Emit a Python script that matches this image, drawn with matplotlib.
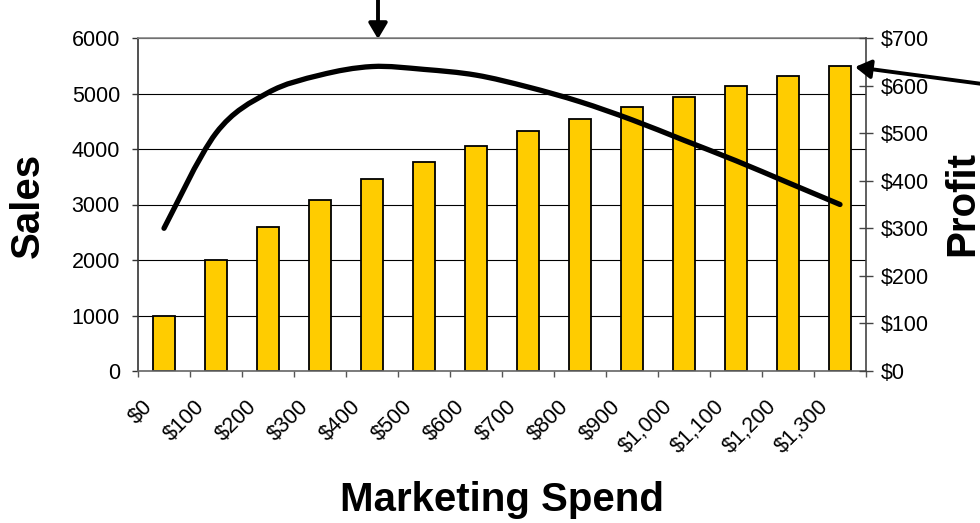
import matplotlib
matplotlib.use("Agg")
import matplotlib.pyplot as plt
from matplotlib.transforms import ScaledTranslation
from matplotlib.path import Path
from matplotlib.patches import PathPatch
import numpy as np

plt.rcParams['font.family'] = ['Liberation Sans', 'DejaVu Sans']

# data
spend_labels = ['$0', '$100', '$200', '$300', '$400', '$500', '$600', '$700',
                '$800', '$900', '$1,000', '$1,100', '$1,200', '$1,300']
sales = [1000, 2000, 2600, 3080, 3460, 3760, 4060, 4320, 4540, 4760, 4940, 5140, 5320, 5500]
profit = [300, 500, 585, 622, 640, 634, 622, 597, 566, 528, 485, 442, 396, 350]
sales_ticks = [0, 1000, 2000, 3000, 4000, 5000, 6000]
profit_ticks = [0, 100, 200, 300, 400, 500, 600, 700]


def smooth_path(xs, ys):
    # excel-like smoothed line: cubic bezier through the points (catmull-rom handles)
    p = np.column_stack([xs, ys]).astype(float)
    n = len(p)
    verts = [p[0]]
    codes = [Path.MOVETO]
    for i in range(n - 1):
        p0 = p[i - 1] if i > 0 else p[i]
        p3 = p[i + 2] if i + 2 < n else p[i + 1]
        c1 = p[i] + (p[i + 1] - p0) / 6.0
        c2 = p[i + 1] - (p3 - p[i]) / 6.0
        verts += [c1, c2, p[i + 1]]
        codes += [Path.CURVE4] * 3
    return Path(verts, codes)


W, H = 980, 523
fig = plt.figure(figsize=(W / 100, H / 100), dpi=100)
ax = fig.add_axes([138 / W, 1 - 371 / H, (866 - 138) / W, (371 - 38) / H])

x = np.arange(len(sales))
ax.bar(x, sales, width=0.42, color='#FFCC00', edgecolor='black', linewidth=1.3, zorder=2)
ax.set_xlim(-0.5, len(sales) - 0.5)
ax.set_ylim(0, 6000)
ax.set_yticks(sales_ticks)
ax.set_yticklabels([str(v) for v in sales_ticks], fontsize=15.5)
ax.yaxis.grid(True, color='black', linewidth=0.8)
ax.set_axisbelow(True)
ax.tick_params(axis='y', direction='out', length=4, width=1, color='#333333', pad=9)

# category ticks at boundaries, labels at centres
ax.set_xticks(x)
ax.set_xticks(np.arange(-0.5, len(sales), 1.0), minor=True)
ax.set_xticklabels(spend_labels, rotation=45, ha='right', va='top', fontsize=15.5)
ax.tick_params(axis='x', which='major', length=0, pad=18)
ax.tick_params(axis='x', which='minor', length=4, width=1, color='#555555', direction='out')
shift = ScaledTranslation(-0.07, 0, fig.dpi_scale_trans)
for lab in ax.get_xticklabels():
    lab.set_transform(lab.get_transform() + shift)

ax.spines['left'].set_color('#333333')
ax.spines['left'].set_linewidth(1.2)
ax.spines['bottom'].set_color('#666666')
ax.spines['bottom'].set_linewidth(1.2)
ax.spines['top'].set_color('#888888')
ax.spines['top'].set_linewidth(1.2)
ax.spines['right'].set_visible(False)

ax2 = ax.twinx()
ax2.set_ylim(0, 700)
ax2.add_patch(PathPatch(smooth_path(x, profit), facecolor='none', edgecolor='black',
                        linewidth=3.8, capstyle='round', joinstyle='round', zorder=3))
ax2.set_yticks(profit_ticks)
ax2.set_yticklabels(['${:,}'.format(v) for v in profit_ticks], fontsize=15.5)
ax2.tick_params(axis='y', direction='inout', length=10, width=1, color='#444444', pad=6)
ax2.spines['right'].set_color('#444444')
ax2.spines['right'].set_linewidth(1.2)
for side in ['left', 'top', 'bottom']:
    ax2.spines[side].set_visible(False)

# axis titles
fig.text(28 / W, 1 - 205 / H, 'Sales', rotation=90, ha='center', va='center',
         fontsize=29, fontweight='bold')
fig.text(962 / W, 1 - 203 / H, 'Profit', rotation=90, ha='center', va='center',
         fontsize=29, fontweight='bold')
fig.text(502 / W, 1 - 500 / H, 'Marketing Spend', ha='center', va='center',
         fontsize=29, fontweight='bold')

# callout arrows
arrow = dict(arrowstyle='-|>,head_length=0.47,head_width=0.28', color='black',
             lw=2.8, shrinkA=0, shrinkB=0, mutation_scale=20)
fig.add_artist(plt.Annotation('', xy=(378, H - 39), xytext=(378, H + 5),
                              xycoords='figure pixels', textcoords='figure pixels',
                              arrowprops=arrow))
fig.add_artist(plt.Annotation('', xy=(855, H - 67), xytext=(990, H - 85),
                              xycoords='figure pixels', textcoords='figure pixels',
                              arrowprops=arrow))

fig.savefig('out.png', dpi=100)
